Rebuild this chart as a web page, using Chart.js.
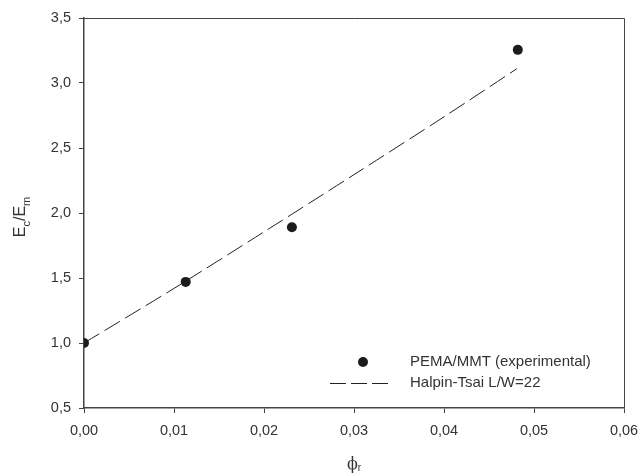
<!DOCTYPE html>
<html>
<head>
<meta charset="utf-8">
<script src="https://cdn.jsdelivr.net/npm/chart.js@4/dist/chart.umd.min.js"></script>
<style>
  html, body { margin: 0; padding: 0; background: #fff; }
  #wrap { width: 640px; height: 474px; position: relative; }
</style>
</head>
<body>
<div id="wrap"><canvas id="c" width="640" height="474"></canvas></div>
<script>
// ---- data ----
const expLabel = 'PEMA/MMT (experimental)';
const expX = [0, 0.0113, 0.0231, 0.0482];
const expY = [1.0, 1.47, 1.89, 3.255];

const modelLabel = 'Halpin-Tsai L/W=22';
const modelX = [0, 0.01, 0.02, 0.03, 0.04, 0.0481];
const modelY = [1.0, 1.42, 1.855, 2.295, 2.74, 3.11];

const xMin = 0, xMax = 0.06, xStep = 0.01;
const yMin = 0.5, yMax = 3.5, yStep = 0.5;

const xTitleMain = 'ϕ', xTitleSub = 'r';
const yTitleParts = [['E', false], ['c', true], ['/E', false], ['m', true]];

// ---- chart ----
const FONT = '"Liberation Sans", Arial, sans-serif';
const TXT = '#333';
const AX = '#444';

const toPts = (xs, ys) => xs.map((x, i) => ({ x: x, y: ys[i] }));

const decorPlugin = {
  id: 'decor',
  afterDraw(chart) {
    const ctx = chart.ctx;
    const a = chart.chartArea;
    ctx.save();
    // frame top & right
    ctx.strokeStyle = AX;
    ctx.lineWidth = 1;
    ctx.beginPath();
    ctx.moveTo(a.left, a.top + 0.5);
    ctx.lineTo(a.right + 0.5, a.top + 0.5);
    ctx.lineTo(a.right + 0.5, a.bottom);
    ctx.stroke();

    // legend
    const ds0 = chart.data.datasets[0];
    const ds1 = chart.data.datasets[1];
    const lx = 363, ly1 = 362, ly2 = 383, tx = 410;
    ctx.fillStyle = ds0.pointBackgroundColor;
    ctx.beginPath();
    ctx.arc(lx, ly1, ds0.pointRadius, 0, Math.PI * 2);
    ctx.fill();
    ctx.strokeStyle = ds1.borderColor;
    ctx.lineWidth = ds1.borderWidth;
    ctx.setLineDash([16, 5]);
    ctx.beginPath();
    ctx.moveTo(330, ly2 + 0.5);
    ctx.lineTo(388, ly2 + 0.5);
    ctx.stroke();
    ctx.setLineDash([]);
    ctx.fillStyle = TXT;
    ctx.font = '15px ' + FONT;
    ctx.textBaseline = 'middle';
    ctx.textAlign = 'left';
    ctx.fillText(ds0.label, tx, ly1);
    ctx.fillText(ds1.label, tx, ly2);

    // x title
    const cx = (a.left + a.right) / 2;
    const serif = '16px "DejaVu Serif", "Liberation Serif", serif';
    ctx.font = serif;
    ctx.textBaseline = 'alphabetic';
    const wMain = ctx.measureText(xTitleMain).width;
    ctx.font = '10px ' + FONT;
    const wSub = ctx.measureText(xTitleSub).width;
    let sx = cx - (wMain + wSub) / 2;
    ctx.font = serif;
    ctx.fillText(xTitleMain, sx, 469);
    ctx.font = '10px ' + FONT;
    ctx.fillText(xTitleSub, sx + wMain, 471);

    // y title rotated
    ctx.translate(25, (a.top + a.bottom) / 2 + 4);
    ctx.rotate(-Math.PI / 2);
    let total = 0;
    const widths = yTitleParts.map(([t, sub]) => {
      ctx.font = (sub ? '11px ' : '16px ') + FONT;
      const w = ctx.measureText(t).width;
      total += w;
      return w;
    });
    let px = -total / 2;
    yTitleParts.forEach(([t, sub], i) => {
      ctx.font = (sub ? '11px ' : '16px ') + FONT;
      ctx.fillText(t, px, sub ? 5 : 0);
      px += widths[i];
    });
    ctx.restore();
  }
};

new Chart(document.getElementById('c'), {
  type: 'scatter',
  data: {
    datasets: [
      {
        label: expLabel,
        data: toPts(expX, expY),
        pointRadius: 5,
        pointHoverRadius: 5,
        pointBackgroundColor: '#1c1c1c',
        pointBorderColor: '#1c1c1c',
        pointBorderWidth: 0,
        showLine: false
      },
      {
        label: modelLabel,
        data: toPts(modelX, modelY),
        showLine: true,
        pointRadius: 0,
        borderColor: '#222',
        borderWidth: 1,
        borderDash: [18, 6],
        tension: 0.3,
        fill: false
      }
    ]
  },
  options: {
    responsive: false,
    animation: false,
    events: [],
    layout: { padding: { left: 0, right: 16, top: 18, bottom: 0 } },
    plugins: { legend: { display: false }, tooltip: { enabled: false } },
    scales: {
      x: {
        type: 'linear',
        min: xMin, max: xMax,
        afterFit(s) { s.height = 66; s.paddingLeft = 0; s.paddingRight = 0; },
        border: { display: true, color: AX, width: 1.5 },
        grid: { display: true, drawOnChartArea: false, drawTicks: true, tickLength: 5, color: AX },
        ticks: {
          stepSize: xStep,
          padding: 9,
          color: TXT,
          font: { family: FONT, size: 14.5 },
          maxRotation: 0,
          callback: v => v.toFixed(2).replace('.', ',')
        }
      },
      y: {
        type: 'linear',
        min: yMin, max: yMax,
        afterFit(s) { s.width = 84; s.paddingTop = 0; s.paddingBottom = 0; },
        border: { display: true, color: AX, width: 1.5 },
        grid: { display: true, drawOnChartArea: false, drawTicks: true, tickLength: 5, color: AX },
        ticks: {
          stepSize: yStep,
          padding: 8,
          color: TXT,
          font: { family: FONT, size: 14.5 },
          callback: v => v.toFixed(1).replace('.', ',')
        }
      }
    }
  },
  plugins: [decorPlugin]
});
</script>
</body>
</html>
